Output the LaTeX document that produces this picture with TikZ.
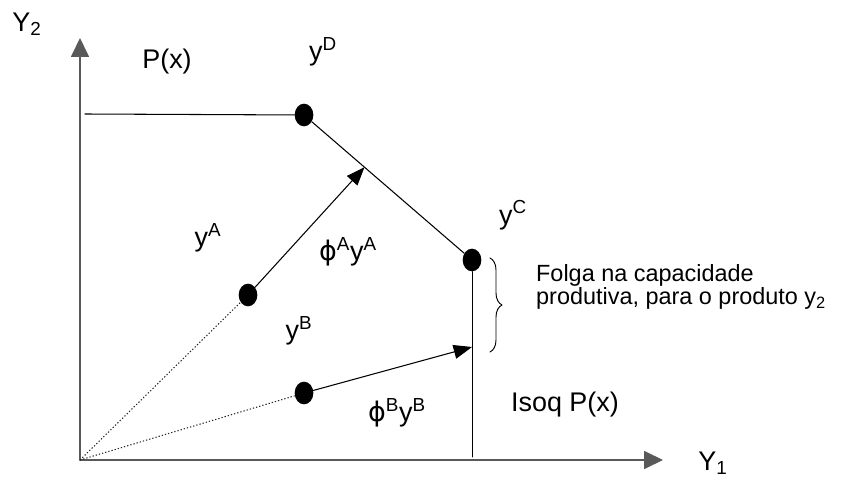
\documentclass[tikz,border=0pt]{standalone}
\usepackage{fontspec}
\setmainfont{Liberation Sans}
\newfontfamily\simbolo{DejaVu Sans}
\usetikzlibrary{arrows.meta,shapes.geometric,decorations.pathreplacing,calc}

\newcommand{\fator}{{\simbolo ϕ}}

\begin{document}
\begin{tikzpicture}[line cap=round,line join=round,
  every node/.style={inner sep=0.8pt,font=\fontsize{23}{27}\selectfont},
  ponto/.style={ellipse,fill=black,minimum width=0.56cm,minimum height=0.68cm,inner sep=0pt},
  eixo/.style={line width=1.5pt,draw=black!65,-{Triangle[length=0.57cm,width=0.54cm]}},
  seta/.style={line width=0.9pt,-{Triangle[length=0.55cm,width=0.42cm]}},
  raio/.style={line width=0.9pt,draw=black!85,line cap=butt,dash pattern=on 1.1pt off 1.7pt}]
  \useasboundingbox (0,0) rectangle (25.29,14.4);
  % eixos
  \coordinate (O) at (2.40,0.60);
  \coordinate (topo) at (2.55,10.98);
  \coordinate (base) at (14.16,0.69);
  \draw[eixo] (O) -- (2.40,13.26);
  \draw[eixo] (O) -- (19.89,0.60);
  \node at (0.81,13.68) {Y\textsubscript{2}};
  \node at (21.39,0.51) {Y\textsubscript{1}};
  % fronteira de P(x)
  \node[ponto] (D) at (9.12,10.95) {};
  \node[ponto] (C) at (14.16,6.60) {};
  \draw[line width=0.9pt] (topo) -- (D);
  \draw[line width=0.9pt] (D) -- (C);
  \draw[line width=0.8pt] (C) -- (base);
  \node at (5.01,12.54) {P(x)};
  \node at (9.69,12.84) {y\textsuperscript{D}};
  \node at (15.39,7.95) {y\textsuperscript{C}};
  \node at (16.95,2.25) {Isoq P(x)};
  % vectores yA e yB
  \node[ponto] (A) at (7.44,5.55) {};
  \node[ponto] (B) at (9.12,2.61) {};
  \coordinate (Ap) at ($(D)!0.36!(C)$);
  \coordinate (Bp) at (14.16,3.99);
  \draw[raio] (O) -- (A);
  \draw[raio] (O) -- (B);
  \draw[seta] (A) -- (Ap);
  \draw[seta] (B) -- (Bp);
  \node at (6.24,7.26) {y\textsuperscript{A}};
  \node at (10.44,6.84) {\fator\textsuperscript{A}y\textsuperscript{A}};
  \node at (8.97,4.47) {y\textsuperscript{B}};
  \node at (11.91,2.01) {\fator\textsuperscript{B}y\textsuperscript{B}};
  % folga
  \draw[line width=0.8pt,decorate,decoration={brace,amplitude=0.36cm}] (14.70,6.66) -- (14.70,3.84);
  \node[anchor=west,align=left,font=\fontsize{20}{17.7}\selectfont] at (16.05,5.79)
    {Folga na capacidade\\produtiva, para o produto y\textsubscript{2}};
\end{tikzpicture}
\end{document}
